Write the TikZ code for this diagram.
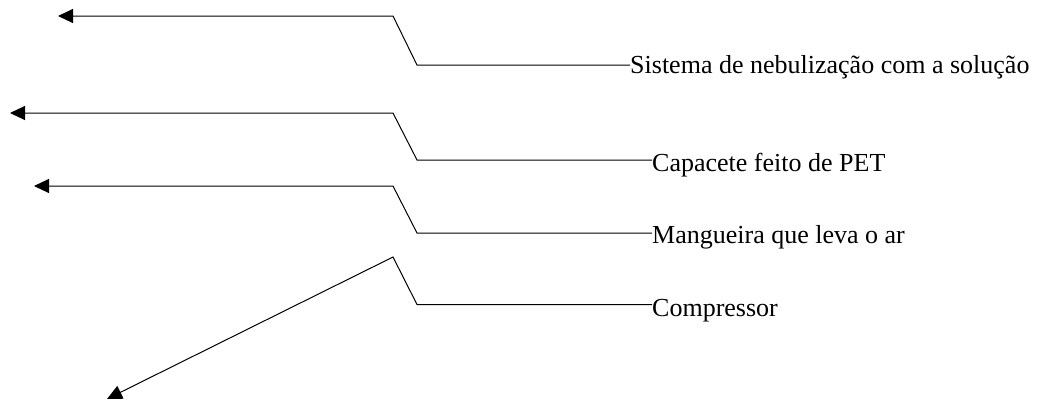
\documentclass[tikz,border=0pt]{standalone}
\usepackage{fontspec}
\setmainfont{Liberation Serif}
\usetikzlibrary{arrows.meta}
\begin{document}
\begin{tikzpicture}[x=1pt,y=-1pt,
  lead/.style={draw=black,line width=1pt,-{Triangle[length=15pt,width=14pt]}},
  lbl/.style={anchor=base west,inner sep=0pt,font=\fontsize{26}{30}\selectfont}]
\useasboundingbox (0,0) rectangle (1042,402);
% labels
\node[lbl] (l1) at (630,73.3) {Sistema de nebuliza\c{c}\~ao com a solu\c{c}\~ao};
\node[lbl] (l2) at (652,171.5) {Capacete feito de PET};
\node[lbl] (l3) at (652,243.5) {Mangueira que leva o ar};
\node[lbl] (l4) at (652,316.5) {Compressor};
% coordinates
\coordinate (e1) at (630,65);  \coordinate (b1) at (417,65);  \coordinate (k1) at (393,16);  \coordinate (t1) at (58,16);
\coordinate (e2) at (652,160); \coordinate (b2) at (417,160); \coordinate (k2) at (393,113); \coordinate (t2) at (10,113);
\coordinate (e3) at (652,233); \coordinate (b3) at (417,233); \coordinate (k3) at (393,186); \coordinate (t3) at (34,186);
\coordinate (e4) at (652,304.5); \coordinate (b4) at (417,304.5); \coordinate (k4) at (393,257); \coordinate (t4) at (107,399);
% leaders
\draw[lead] (e1) -- (b1) -- (k1) -- (t1);
\draw[lead] (e2) -- (b2) -- (k2) -- (t2);
\draw[lead] (e3) -- (b3) -- (k3) -- (t3);
\draw[lead] (e4) -- (b4) -- (k4) -- (t4);
\end{tikzpicture}
\end{document}
